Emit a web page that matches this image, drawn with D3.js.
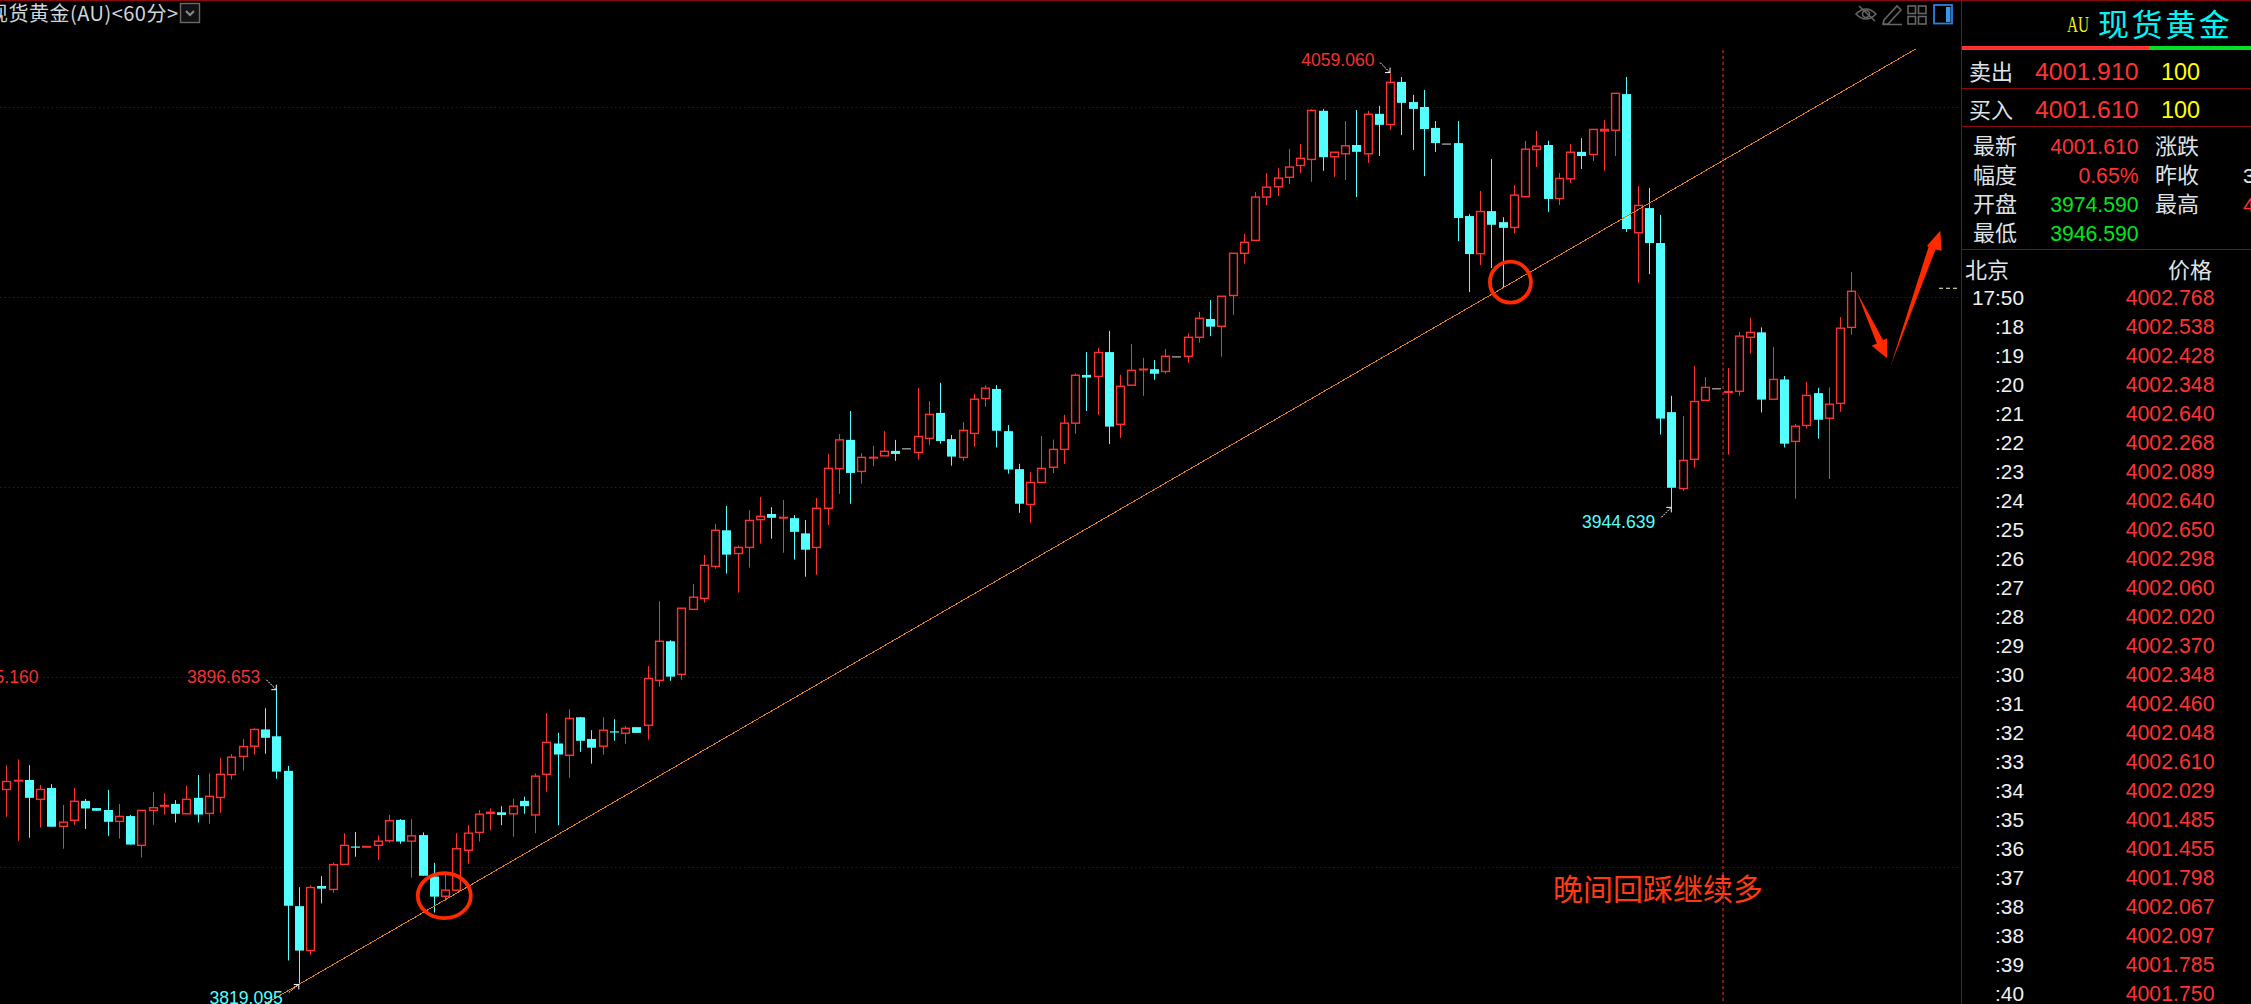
<!DOCTYPE html>
<html lang="zh"><head><meta charset="utf-8"><title>现货黄金 60分</title>
<script src="https://cdnjs.cloudflare.com/ajax/libs/d3/7.8.5/d3.min.js"></script>
<style>html,body{margin:0;padding:0;background:#000;overflow:hidden}svg{display:block}</style></head>
<body><div id="chart"></div>
<script>
const opens=[3870.4,3872.7,3872.9,3867.8,3870.8,3860.7,3862.3,3867.4,3865.5,3865.0,
3862.0,3863.4,3855.7,3864.9,3866.0,3866.6,3864.0,3868.2,3864.1,3868.3,
3874.3,3879.1,3881.8,3886.2,3884.4,3875.3,3839.7,3828.0,3845.0,3844.1,
3850.7,3855.4,3855.3,3855.7,3856.9,3862.4,3856.8,3858.4,3847.5,3842.3,
3843.9,3854.4,3859.1,3864.1,3864.4,3864.0,3867.4,3863.7,3874.4,3882.5,
3879.4,3889.4,3883.7,3881.8,3885.7,3885.2,3886.8,3887.3,3899.1,3909.4,
3900.7,3917.8,3920.7,3929.1,3938.6,3932.5,3934.1,3941.4,3942.9,3941.9,
3941.8,3937.8,3934.1,3944.4,3954.8,3962.4,3954.1,3957.7,3958.2,3959.5,
3960.2,3959.1,3962.8,3969.5,3962.6,3957.8,3964.1,3973.3,3975.8,3964.7,
3954.7,3945.4,3951.2,3955.2,3959.9,3966.8,3979.5,3979.1,3985.5,3966.5,
3976.8,3980.9,3981.0,3980.4,3984.4,3984.4,3989.4,3994.2,3992.3,4000.4,
4011.5,4014.9,4026.3,4029.0,4031.5,4034.6,4036.2,4049.0,4036.9,4037.7,
4040.0,4037.7,4048.2,4045.4,4056.6,4051.3,4050.0,4044.5,4040.4,4040.5,
4021.3,4011.4,4022.6,4019.7,4018.3,4026.4,4038.8,4040.0,4025.9,4031.1,
4038.2,4037.5,4043.7,4043.9,4053.4,4016.9,4023.4,4014.2,3969.7,3949.6,
3957.3,3972.8,3976.0,3974.9,3975.2,3989.4,3990.7,3973.1,3978.3,3962.0,
3966.2,3974.7,3968.1,3972.0,3992.0];
const highs=[3876.8,3878.3,3876.8,3871.6,3871.8,3866.3,3870.8,3867.9,3865.5,3870.3,
3866.6,3863.7,3864.9,3869.7,3869.4,3867.6,3871.4,3874.2,3874.7,3878.7,
3879.7,3883.7,3886.5,3891.8,3896.653,3876.6,3844.7,3845.2,3847.6,3851.2,
3858.9,3859.2,3855.4,3858.3,3863.7,3862.6,3862.6,3859.1,3851.1,3847.9,
3858.9,3861.0,3865.0,3865.4,3866.0,3868.0,3868.5,3874.6,3890.5,3885.3,
3891.5,3889.5,3886.0,3889.4,3888.9,3887.1,3886.8,3902.9,3919.9,3909.7,
3918.1,3924.5,3932.1,3940.3,3945.0,3934.6,3943.9,3947.4,3944.7,3946.6,
3942.6,3941.3,3947.1,3958.7,3963.9,3970.0,3958.9,3960.8,3964.7,3962.4,
3960.2,3976.1,3972.6,3977.4,3963.7,3967.1,3974.5,3976.8,3976.8,3966.3,
3956.1,3954.0,3963.4,3962.5,3969.0,3979.9,3985.5,3986.6,3991.1,3979.5,
3987.6,3984.0,3983.4,3986.3,3984.4,3990.4,3996.1,3999.2,4000.2,4011.5,
4016.6,4027.6,4032.6,4033.9,4039.0,4040.3,4049.4,4049.5,4038.1,4046.3,
4049.2,4049.0,4050.3,4059.06,4057.9,4053.2,4054.5,4046.3,4040.4,4046.3,
4021.8,4027.9,4036.3,4021.0,4029.5,4041.1,4043.7,4041.1,4032.6,4040.3,
4041.8,4044.1,4046.6,4053.6,4057.9,4029.2,4028.7,4021.6,3974.0,3968.7,
3981.8,3978.9,3976.0,3981.3,3990.8,3994.5,3992.0,3986.8,3979.2,3966.6,
3977.6,3976.1,3976.2,3994.7,4006.6];
const lows=[3863.2,3856.9,3857.7,3860.4,3860.6,3854.8,3861.1,3860.0,3864.8,3858.2,
3857.5,3855.9,3852.5,3861.1,3863.8,3861.7,3864.0,3861.7,3861.4,3864.3,
3873.0,3875.4,3879.6,3879.8,3873.2,3825.4,3819.095,3826.9,3840.4,3843.2,
3850.7,3852.7,3855.3,3851.9,3856.4,3856.1,3847.2,3847.7,3838.0,3841.1,
3843.9,3850.9,3856.7,3859.7,3861.0,3858.0,3864.0,3858.9,3869.8,3861.0,
3873.5,3880.3,3877.2,3879.6,3883.2,3882.5,3885.3,3883.5,3897.5,3899.0,
3899.3,3917.8,3919.6,3928.5,3927.2,3922.2,3928.8,3935.1,3936.4,3932.7,
3930.9,3926.4,3926.9,3940.0,3948.2,3945.6,3950.9,3955.5,3958.2,3956.9,
3960.2,3957.2,3961.1,3961.4,3955.6,3956.9,3960.6,3971.1,3960.4,3953.5,
3943.2,3940.5,3951.2,3953.7,3956.1,3964.0,3970.0,3969.0,3961.3,3962.9,
3976.8,3974.0,3978.2,3979.8,3984.4,3982.7,3988.0,3989.7,3984.3,3995.3,
4008.8,4014.9,4024.2,4026.6,4029.7,4032.6,4030.3,4033.2,4031.6,4030.8,
4026.3,4035.3,4037.1,4044.0,4042.6,4038.7,4031.8,4038.2,4040.4,4014.7,
4001.3,4008.4,4007.6,4002.4,4016.8,4026.4,4034.2,4022.4,4024.2,4030.0,
4033.7,4035.8,4033.2,4037.1,4017.1,4003.7,4006.0,3963.8,3944.639,3949.0,
3955.1,3972.8,3976.0,3958.5,3974.0,3985.1,3969.6,3973.1,3960.4,3946.9,
3965.4,3962.7,3952.1,3969.8,3990.1];
const closes=[3872.5,3872.8,3868.2,3870.4,3860.6,3861.8,3867.3,3865.4,3864.8,3861.9,
3863.3,3855.9,3864.9,3865.6,3866.2,3864.0,3867.8,3863.8,3868.6,3874.4,
3878.9,3881.7,3886.2,3884.0,3875.1,3839.8,3828.0,3844.6,3844.3,3850.6,
3855.7,3855.3,3855.4,3856.8,3862.2,3856.7,3858.2,3847.7,3842.2,3843.9,
3854.8,3858.9,3863.9,3864.4,3863.7,3866.0,3866.0,3873.9,3882.8,3879.6,
3889.1,3883.2,3881.4,3886.0,3885.6,3886.5,3885.3,3899.6,3909.4,3900.1,
3918.1,3921.0,3929.4,3938.6,3932.2,3934.1,3941.2,3942.3,3941.9,3942.0,
3938.2,3933.5,3944.4,3954.9,3962.4,3953.7,3957.8,3957.8,3959.4,3958.7,
3960.2,3963.3,3969.1,3962.1,3958.0,3964.9,3973.1,3976.0,3964.8,3954.6,
3945.6,3951.2,3954.9,3959.9,3966.8,3979.4,3978.8,3985.4,3965.9,3976.5,
3980.7,3981.0,3979.8,3984.4,3984.4,3989.4,3994.4,3992.2,4000.2,4011.5,
4014.4,4026.3,4028.9,4031.3,4034.2,4036.5,4049.1,4036.8,4038.1,4039.8,
4038.2,4048.1,4045.3,4056.5,4051.1,4049.5,4044.2,4040.5,4040.4,4020.8,
4011.3,4022.5,4019.0,4018.2,4026.8,4038.9,4039.7,4025.8,4031.2,4038.1,
4037.1,4044.1,4044.1,4053.6,4017.9,4024.1,4014.2,3968.0,3949.8,3957.0,
3972.5,3976.2,3976.0,3975.1,3989.7,3990.7,3973.0,3978.3,3961.4,3966.0,
3974.1,3967.7,3971.8,3991.8,4001.5];
const gridPrices=[4050,4000,3950,3900,3850];
const extremes=[
 {i:24,p:3896.653,label:"3896.653",cls:"r",dx:-16,dy:-6.5,ax:-10,ay:-10},
 {i:123,p:4059.06,label:"4059.060",cls:"r",dx:-15.5,dy:-6.5,ax:-10,ay:-10},
 {i:26,p:3819.095,label:"3819.095",cls:"c",dx:-16,dy:19.5,ax:-10,ay:8},
 {i:148,p:3944.639,label:"3944.639",cls:"c",dx:-16,dy:20.5,ax:-10,ay:10}];
const stubLabel="5.160", stubPrice=3896.653;
const trendIdx=[23,169.75], trendPrice=[3813.95,4065.3];
const markerIdx=152.6, lastQuote=4002.3;
const circles=[{i:38.93,p:3842.45,rx:26.5,ry:22.5},{i:133.7,p:4003.9,rx:20.5,ry:20.5}];
const titleText="现货黄金(AU)<60分>", noteText="晚间回踩继续多";
const listTimes=["17:50",":18",":19",":20",":21",":22",":23",":24",":25",":26",":27",":28",":29",":30",":31",":32",":33",":34",":35",":36",":37",":38",":38",":39",":40"];
const listPrices=["4002.768","4002.538","4002.428","4002.348","4002.640","4002.268","4002.089","4002.640","4002.650","4002.298","4002.060","4002.020","4002.370","4002.348","4002.460","4002.048","4002.610","4002.029","4001.485","4001.455","4001.798","4002.067","4002.097","4001.785","4001.750"];

const W=2251,H=1004,PANEL=1961.5;
const RED="#ff3232",CYAN="#54ffff",DRED="#8b0a0a",LBL="#dfe3e8";
const SANS="'Liberation Sans',Arial,sans-serif",CJK="'Noto Sans CJK SC',sans-serif";
const x=d3.scaleLinear().domain([0,opens.length-1]).range([6.3,1851.3]);
const y=d3.scaleLinear().domain([3850,4000]).range([867,297]);
const svg=d3.select("#chart").append("svg").attr("width",W).attr("height",H).style("background","#000");

// grid
svg.append("g").selectAll("line").data(gridPrices).join("line")
 .attr("x1",0).attr("x2",PANEL).attr("y1",d=>Math.round(y(d))+.5).attr("y2",d=>Math.round(y(d))+.5)
 .attr("stroke","#521010").attr("stroke-width",1).attr("stroke-dasharray","1.5 2.8");

// marker line
svg.append("line").attr("x1",x(markerIdx)).attr("x2",x(markerIdx)).attr("y1",50).attr("y2",H)
 .attr("stroke","#f23a3a").attr("stroke-width",1).attr("stroke-dasharray","3 3");

// candles
const rows=d3.range(opens.length).map(i=>({i,o:opens[i],h:highs[i],l:lows[i],c:closes[i]}));
const col=d=>d.c>d.o?RED:d.c<d.o?CYAN:"#b4b4b4";
const cg=svg.append("g");
const cx=d=>Math.round(x(d.i))+.5;
cg.selectAll("line.w").data(rows).join("line").attr("class","w")
 .attr("x1",cx).attr("x2",cx).attr("y1",d=>y(d.h)).attr("y2",d=>y(d.l))
 .attr("stroke",col).attr("stroke-width",1);
cg.selectAll("rect.b").data(rows).join("rect").attr("class","b")
 .attr("x",d=>cx(d)-(d.c>d.o?3.9:4.5))
 .attr("width",d=>d.c>d.o?7.8:9)
 .attr("y",d=>y(Math.max(d.o,d.c)))
 .attr("height",d=>Math.max(d.c>d.o?0.6:1.2,Math.abs(y(d.o)-y(d.c))))
 .attr("fill",d=>d.c>d.o?"#000":col(d))
 .attr("stroke",d=>d.c>d.o?RED:"none").attr("stroke-width",1.4);

// trend line
svg.append("line").attr("x1",x(trendIdx[0])).attr("y1",y(trendPrice[0])).attr("x2",x(trendIdx[1])).attr("y2",y(trendPrice[1]))
 .attr("stroke","#e0801a").attr("stroke-width",1).attr("shape-rendering","crispEdges");

// extreme labels + tiny arrows
extremes.forEach(e=>{
 const tx=x(e.i),ty=y(e.p);
 svg.append("text").attr("x",tx+e.dx).attr("y",ty+e.dy).attr("text-anchor","end")
  .attr("font-family",SANS).attr("font-size",17.6).attr("fill",e.cls=="r"?"#f03232":CYAN).text(e.label);
 const sx=Math.sign(e.ax),sy=Math.sign(e.ay);
 svg.append("path").attr("d",`M${tx+e.ax},${ty+e.ay}L${tx},${ty}`).attr("stroke","#fff").attr("stroke-width",1).attr("stroke-dasharray","2 1").attr("fill","none");
 svg.append("path").attr("d",`M${tx+sx*5},${ty}L${tx},${ty}L${tx},${ty+sy*5}`).attr("stroke","#fff").attr("stroke-width",1).attr("fill","none");
});
svg.append("text").attr("x",38.5).attr("y",y(stubPrice)-6.5).attr("text-anchor","end").attr("font-family",SANS).attr("font-size",17.6).attr("fill","#f03232").text(stubLabel);

// hand-drawn annotations
svg.append("g").selectAll("ellipse").data(circles).join("ellipse")
 .attr("cx",d=>x(d.i)).attr("cy",d=>y(d.p)).attr("rx",d=>d.rx).attr("ry",d=>d.ry)
 .attr("fill","none").attr("stroke","#ff2a00").attr("stroke-width",3.8);
const arrowDown=[[1856.7,291.7],[1883.2,340.2],[1887,338.3],[1887,358.3],[1871.7,345.7],[1876.8,343.4]];
const arrowUp=[[1890.7,365.7],[1935.5,249.5],[1941.7,250.7],[1940.3,230.7],[1927,245.7],[1928.5,247]];
svg.append("g").selectAll("polygon").data([arrowDown,arrowUp]).join("polygon")
 .attr("points",d=>d.map(p=>p.join(",")).join(" ")).attr("fill","#ff2a00");
svg.append("text").attr("x",1553).attr("y",900).attr("font-family",CJK).attr("font-size",30).attr("fill","#ff3a12").text(noteText);
svg.append("line").attr("x1",1939).attr("x2",1960).attr("y1",y(lastQuote)).attr("y2",y(lastQuote))
 .attr("stroke","#ffffc8").attr("stroke-width",1).attr("stroke-dasharray","4 3");

// title bar
svg.append("text").attr("x",-12).attr("y",21).attr("font-family",CJK).attr("font-size",20).attr("fill","#cfd6dc").attr("textLength",190).attr("lengthAdjust","spacing").text(titleText);
svg.append("rect").attr("x",180.5).attr("y",3.5).attr("width",19).attr("height",19).attr("fill","#111").attr("stroke","#6a6a6a").attr("stroke-width",1.4);
svg.append("path").attr("d","M186,11L190,15L194,11").attr("fill","none").attr("stroke","#8a8a8a").attr("stroke-width",2);

// toolbar
const tb=svg.append("g").attr("fill","none").attr("stroke","#666").attr("stroke-width",1.6);
tb.append("path").attr("d","M1856,14Q1866,4 1876,14Q1866,24 1856,14Z");
tb.append("circle").attr("cx",1866).attr("cy",14).attr("r",3.5);
tb.append("path").attr("d","M1859,6L1875,21");
tb.append("path").attr("d","M1884,20L1897,6L1901,10L1888,24L1883,24ZM1883,24.5L1902,24.5");
[[1908,6],[1918.5,6],[1908,16.5],[1918.5,16.5]].forEach(p=>tb.append("rect").attr("x",p[0]).attr("y",p[1]).attr("width",7.5).attr("height",7.5));
svg.append("rect").attr("x",1934).attr("y",5).attr("width",18).attr("height",18.5).attr("fill","none").attr("stroke","#2a80e0").attr("stroke-width",1.8);
svg.append("rect").attr("x",1946).attr("y",7).attr("width",4.5).attr("height",15).attr("fill","#3a96f0");

// frame
svg.append("rect").attr("x",0).attr("y",0).attr("width",W).attr("height",1).attr("fill",DRED);
svg.append("rect").attr("x",1961).attr("y",0).attr("width",1).attr("height",H).attr("fill",DRED);

// right panel
const pn=svg.append("g");
const t=(s,tx,ty,fs,fill,fam,anchor)=>pn.append("text").attr("x",tx).attr("y",ty).attr("font-size",fs).attr("fill",fill).attr("font-family",fam).attr("text-anchor",anchor||"start").text(s);
t("AU",2067,32,23,"#f5f500","'Liberation Serif',serif").attr("textLength",22).attr("lengthAdjust","spacingAndGlyphs");
t("现货黄金",2098,36,31,"#00f5f5",CJK).attr("letter-spacing",2.6);
pn.append("rect").attr("x",1962).attr("y",46).attr("width",187).attr("height",4).attr("fill",RED);
pn.append("rect").attr("x",2149).attr("y",46).attr("width",102).attr("height",4).attr("fill","#00e020");
[88,126,249].forEach(v=>pn.append("rect").attr("x",1962).attr("y",v).attr("width",289).attr("height",1).attr("fill",DRED));
t("卖出",1969,80,22,LBL,CJK);
t("4001.910",2138.5,80,24.8,RED,SANS,"end");
t("100",2161,80,23.4,"#ffff00",SANS);
t("买入",1969,118,22,LBL,CJK);
t("4001.610",2138.5,118,24.8,RED,SANS,"end");
t("100",2161,118,23.4,"#ffff00",SANS);
const GREEN="#00e61e";
[["最新","4001.610",RED,154],["幅度","0.65%",RED,183],["开盘","3974.590",GREEN,212],["最低","3946.590",GREEN,241]].forEach(r=>{
 t(r[0],1973,r[3],22,LBL,CJK);
 t(r[1],2138.5,r[3]-.5,21.2,r[2],SANS,"end");
});
t("涨跌",2155,154,22,LBL,CJK);
t("昨收",2155,183,22,LBL,CJK);
t("最高",2155,212,22,LBL,CJK);
t("3",2243,182.5,21,"#e8e8e8",SANS);
t("4",2243,211.5,21,RED,SANS);
t("北京",1965,278,22,LBL,CJK);
t("价格",2168,278,22,LBL,CJK);
const rowY=d3.scaleLinear().domain([0,24]).range([305,1001]);
pn.append("g").selectAll("text").data(listTimes).join("text")
 .attr("x",2024).attr("y",(d,i)=>rowY(i)).attr("text-anchor","end").attr("font-family",SANS).attr("font-size",20.8).attr("fill","#f0f0f0").text(d=>d);
pn.append("g").selectAll("text").data(listPrices).join("text")
 .attr("x",2214.5).attr("y",(d,i)=>rowY(i)).attr("text-anchor","end").attr("font-family",SANS).attr("font-size",21.3).attr("fill",RED).text(d=>d);
</script></body></html>
